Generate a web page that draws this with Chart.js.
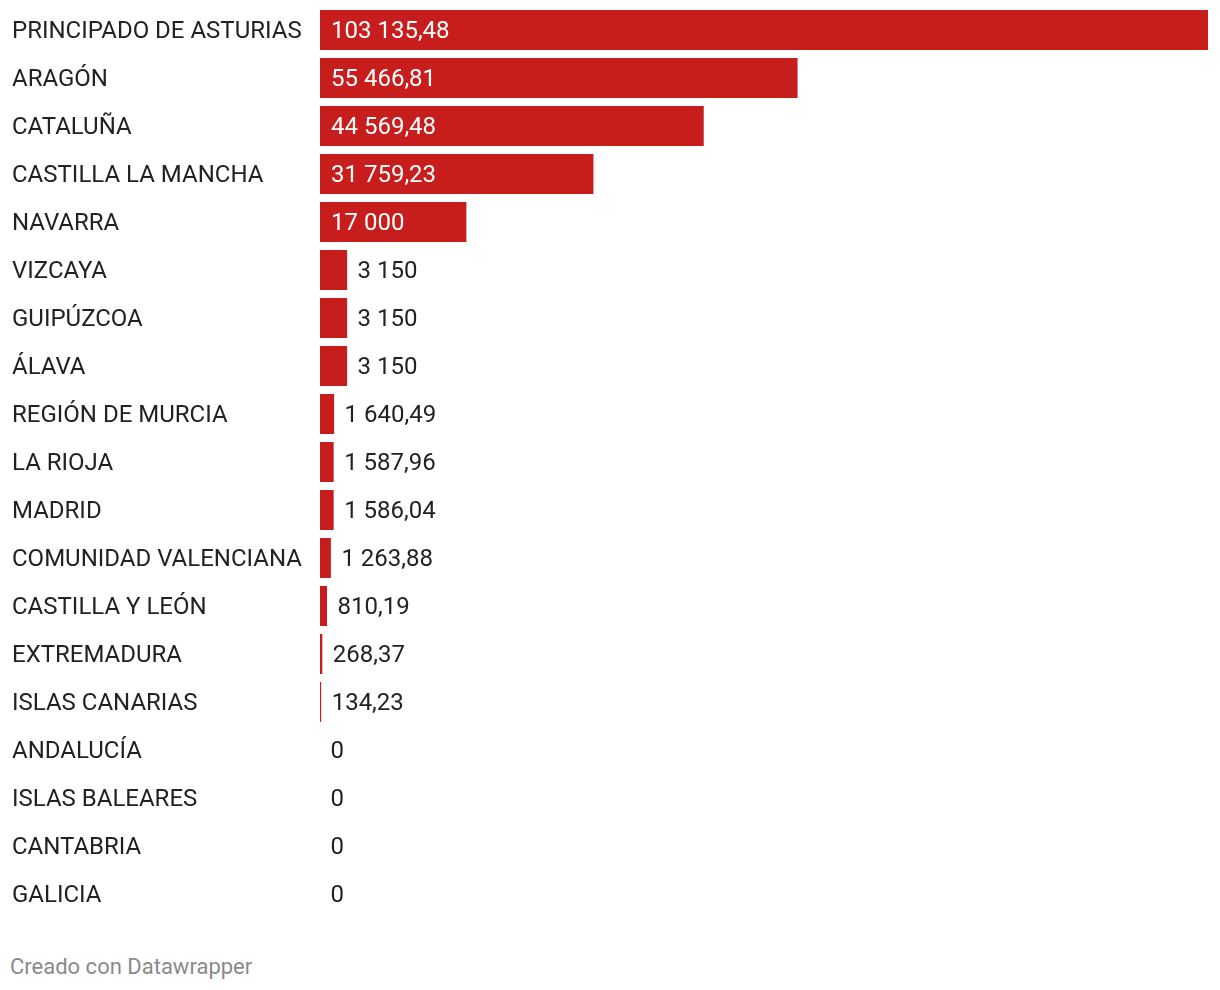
<!DOCTYPE html>
<html>
<head>
<meta charset="utf-8">
<script src="https://cdn.jsdelivr.net/npm/chart.js@4.4.1/dist/chart.umd.min.js"></script>
<style>
  html, body { margin: 0; padding: 0; background: #fff; }
  #wrap { position: relative; width: 1220px; height: 990px; }
  #c { position: absolute; left: 0; top: 0; }
  #foot { position: absolute; left: 10px; top: 954px; line-height: 26px; font-family: Roboto, sans-serif; font-size: 22px; color: #8a8a8a; }
</style>
</head>
<body>
<div id="wrap">
  <canvas id="c" width="1220" height="930"></canvas>
  <div id="foot">Creado con Datawrapper</div>
</div>
<script>
const categories = [
  "PRINCIPADO DE ASTURIAS", "ARAGÓN", "CATALUÑA", "CASTILLA LA MANCHA", "NAVARRA",
  "VIZCAYA", "GUIPÚZCOA", "ÁLAVA", "REGIÓN DE MURCIA", "LA RIOJA", "MADRID",
  "COMUNIDAD VALENCIANA", "CASTILLA Y LEÓN", "EXTREMADURA", "ISLAS CANARIAS",
  "ANDALUCÍA", "ISLAS BALEARES", "CANTABRIA", "GALICIA"
];
const values = [
  103135.48, 55466.81, 44569.48, 31759.23, 17000,
  3150, 3150, 3150, 1640.49, 1587.96, 1586.04,
  1263.88, 810.19, 268.37, 134.23,
  0, 0, 0, 0
];

function fmt(v) {
  const neg = v < 0;
  v = Math.abs(v);
  const dec = Number.isInteger(v) ? 0 : 2;
  let s = v.toFixed(dec);
  let [ip, dp] = s.split('.');
  ip = ip.replace(/\B(?=(\d{3})+(?!\d))/g, ' ');
  return (neg ? '-' : '') + ip + (dp ? ',' + dp : '');
}

const FONT = 'Roboto, sans-serif';
const FS = 24;
const BAR = '#c71e1d';

const valueLabels = {
  id: 'valueLabels',
  afterDatasetsDraw(chart) {
    const ctx = chart.ctx;
    const meta = chart.getDatasetMeta(0);
    ctx.save();
    ctx.font = FS + 'px ' + FONT;
    ctx.textBaseline = 'middle';
    ctx.textAlign = 'left';
    meta.data.forEach((bar, i) => {
      const txt = fmt(values[i]);
      const w = ctx.measureText(txt).width;
      const barW = bar.x - bar.base;
      if (barW > w + 24) {
        ctx.fillStyle = '#ffffff';
        ctx.fillText(txt, bar.base + 11, bar.y + 2);
      } else {
        ctx.fillStyle = '#222222';
        ctx.fillText(txt, bar.x + 10.5, bar.y + 2);
      }
    });
    ctx.restore();
  }
};

new Chart(document.getElementById('c'), {
  type: 'bar',
  data: {
    labels: categories,
    datasets: [{
      data: values,
      backgroundColor: BAR,
      borderWidth: 0,
      barPercentage: 40 / 48,
      categoryPercentage: 1
    }]
  },
  options: {
    indexAxis: 'y',
    responsive: false,
    animation: false,
    maintainAspectRatio: false,
    layout: { padding: { left: 12, right: 12, top: 6, bottom: 12 } },
    plugins: { legend: { display: false }, tooltip: { enabled: false } },
    scales: {
      x: {
        display: false,
        min: 0,
        max: Math.max(...values)
      },
      y: {
        grid: { display: false, drawBorder: false },
        border: { display: false },
        afterFit(scale) {
          scale.width = 308;
          scale.paddingTop = 0;
          scale.paddingBottom = 0;
        },
        ticks: {
          crossAlign: 'far',
          padding: 0,
          labelOffset: 2,
          color: '#222222',
          font: { family: FONT, size: FS }
        }
      }
    }
  },
  plugins: [valueLabels]
});
</script>
</body>
</html>
